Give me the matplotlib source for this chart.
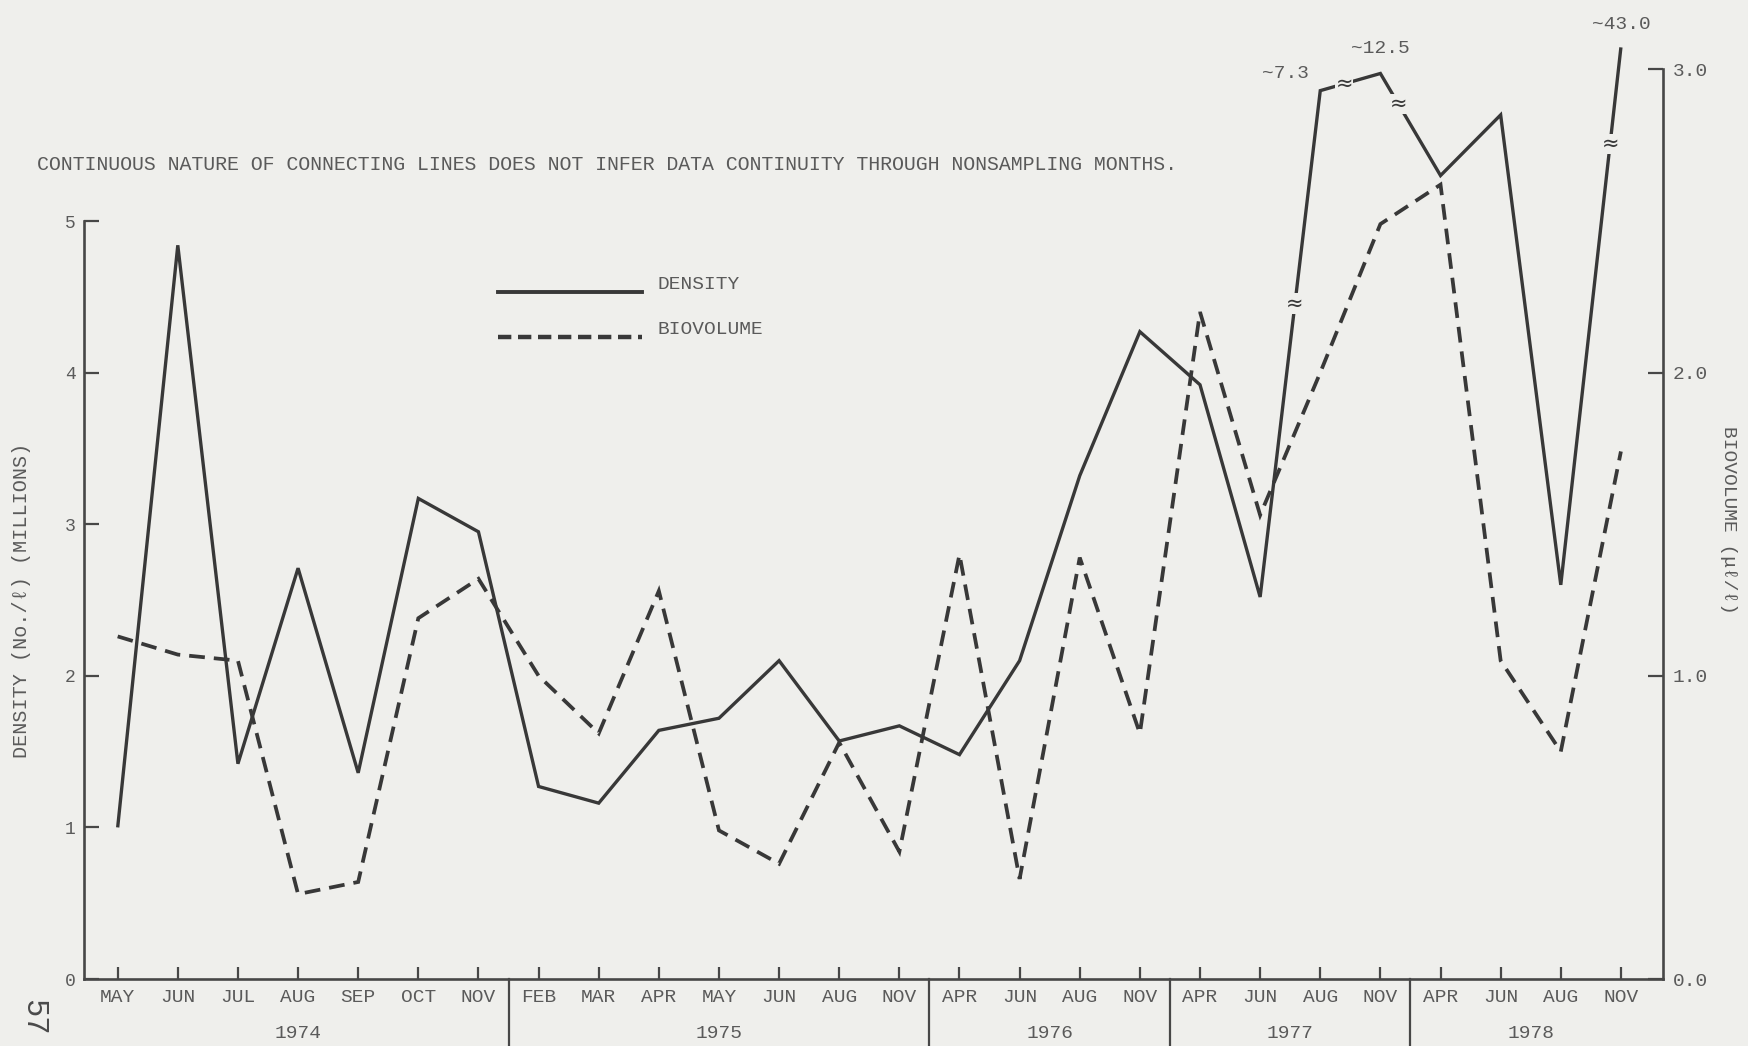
import numpy as np
import matplotlib
matplotlib.use("Agg")
import matplotlib.pyplot as plt
from matplotlib.lines import Line2D
import matplotlib.transforms as mtransforms

# ---- data -------------------------------------------------------------
months = ["MAY", "JUN", "JUL", "AUG", "SEP", "OCT", "NOV",
          "FEB", "MAR", "APR", "MAY", "JUN", "AUG", "NOV",
          "APR", "JUN", "AUG", "NOV",
          "APR", "JUN", "AUG", "NOV",
          "APR", "JUN", "AUG", "NOV"]
years = ["1974", "1975", "1976", "1977", "1978"]
months_per_year = [7, 7, 4, 4, 4]

# density, millions of organisms per litre
density = [1.00, 4.84, 1.42, 2.71, 1.36, 3.17, 2.95,
           1.27, 1.16, 1.64, 1.72, 2.10, 1.57, 1.67,
           1.48, 2.10, 3.32, 4.27,
           3.92, 2.52, 7.3, 12.5,
           5.3, 5.7, 2.6, 43.0]

# biovolume, microlitres per litre
biovolume = [1.13, 1.07, 1.05, 0.28, 0.32, 1.19, 1.32,
             1.00, 0.81, 1.28, 0.49, 0.38, 0.78, 0.42,
             1.40, 0.33, 1.39, 0.81,
             2.20, 1.53, 2.00, 2.49,
             2.62, 1.05, 0.75, 1.74]

note = ("CONTINUOUS NATURE OF CONNECTING LINES DOES NOT INFER "
        "DATA CONTINUITY THROUGH NONSAMPLING MONTHS.")

# ---- style ------------------------------------------------------------
BG = "#efefec"
INK = "#383838"
TXT = "#5a5a5a"
FONT = ["Liberation Mono", "DejaVu Sans Mono", "DejaVu Sans"]
FS = 14
plt.rcParams["font.family"] = FONT
plt.rcParams["font.size"] = FS

W, H = 1749, 1046
fig = plt.figure(figsize=(W / 100, H / 100), dpi=100, facecolor=BG)

# axis frame in pixel terms
x_left, x_right, y_base = 84, 1663, 979
ax = fig.add_axes([x_left / W, (H - y_base) / H, (x_right - x_left) / W, y_base / H])
ax.set_facecolor("none")

# The density axis is linear up to T and strongly compressed above it, so
# off-scale peaks stay inside the frame (shown with break marks).
T, A, Q = 5.75, 0.26, 0.6
TOP = 6.458  # linear-equivalent height of the frame


def fwd(y):
    y = np.asarray(y, dtype=float)
    over = np.log(np.maximum(y, T) / T)
    return np.where(y > T, T + A * over ** Q, y)


def inv(v):
    v = np.asarray(v, dtype=float)
    ex = np.maximum(v - T, 0.0) / A
    return np.where(v > T, T * np.exp(ex ** (1.0 / Q)), v)


x = np.arange(len(months))
ax.set_yscale("function", functions=(fwd, inv))
ax.set_xlim(-0.56, 25.70)
ax.set_ylim(0, float(inv(TOP)))
ax.yaxis.set_minor_locator(matplotlib.ticker.NullLocator())

ax2 = ax.twinx()
ax2.set_ylim(0, TOP / 2)

# ---- series -----------------------------------------------------------
ax.plot(x, density, color=INK, lw=2.4, solid_joinstyle="miter",
        solid_capstyle="butt", zorder=3)
ax2.plot(x, biovolume, color=INK, lw=2.7, dashes=(4.2, 2.4),
         dash_joinstyle="miter", zorder=3)

# ---- axes styling -----------------------------------------------------
for s in ("top", "right"):
    ax.spines[s].set_visible(False)
for s in ("top", "left", "bottom"):
    ax2.spines[s].set_visible(False)
ax.spines["left"].set_bounds(0, 5)
ax2.spines["right"].set_bounds(0, 3)
for sp in (ax.spines["left"], ax.spines["bottom"], ax2.spines["right"]):
    sp.set_color("#474747")
    sp.set_linewidth(1.9)

ax.set_yticks(range(6), [str(v) for v in range(6)])
ax.set_xticks(x, months)
ax.tick_params(axis="x", direction="in", length=9, width=1.6, pad=7,
               colors="#474747", labelcolor=TXT, labelsize=FS)
ax.tick_params(axis="y", direction="in", length=11, width=1.6, pad=6,
               colors="#474747", labelcolor=TXT, labelsize=FS - 1)
ax2.set_yticks(range(4), [f"{v:.1f}" for v in range(4)])
ax2.tick_params(axis="y", direction="in", length=11, width=1.6, pad=7,
                colors="#474747", labelcolor=TXT, labelsize=FS)

# year separators and year labels under the month row
xt = mtransforms.blended_transform_factory(ax.transData, ax.transAxes)
start = 0
for k, (yr, n) in enumerate(zip(years, months_per_year)):
    centre = start + (n - 1) / 2
    ax.text(centre, -0.0552, yr, transform=xt, ha="center", va="center",
            color=TXT, fontsize=FS)
    if k < len(years) - 1:
        sep = start + n - 0.5
        ax.plot([sep, sep], [0, -0.075], transform=xt, color="#474747",
                lw=1.6, clip_on=False)
    start += n

# ---- break marks and off-scale values ----------------------------------
def break_mark(i, frac):
    p0 = ax.transData.transform((x[i], density[i]))
    p1 = ax.transData.transform((x[i + 1], density[i + 1]))
    pm = p0 + frac * (p1 - p0)
    xm, ym = ax.transData.inverted().transform(pm)
    ax.text(xm, ym, "\u2248", ha="center", va="center", fontsize=15,
            family="DejaVu Sans", color=INK, zorder=5,
            bbox=dict(facecolor=BG, edgecolor="none", pad=0.2))


break_mark(19, 0.58)
break_mark(20, 0.40)
break_mark(21, 0.30)
break_mark(24, 0.82)

label_offsets = {20: (-8, 6, "right"), 21: (0, 12, "center"), 25: (0, 10, "center")}
for i, v in enumerate(density):
    if v > T:
        dx, dy, ha = label_offsets.get(i, (0, 10, "center"))
        ax.annotate(f"~{v:.1f}", xy=(x[i], v), xytext=(dx, dy),
                    textcoords="offset points", ha=ha, va="bottom",
                    color=TXT, fontsize=FS, annotation_clip=False)

# ---- legend -----------------------------------------------------------
ly1, ly2 = 1 - 292 / H, 1 - 337 / H
fig.add_artist(Line2D([498 / W, 642 / W], [ly1, ly1], color=INK, lw=2.8))
fig.add_artist(Line2D([498 / W, 642 / W], [ly2, ly2], color=INK, lw=3.2,
                      dashes=(3.0, 1.5)))
fig.text(658 / W, ly1 + 0.007, "DENSITY", ha="left", va="center",
         color=TXT, fontsize=FS)
fig.text(658 / W, ly2 + 0.007, "BIOVOLUME", ha="left", va="center",
         color=TXT, fontsize=FS)

# ---- text ---------------------------------------------------------------
fig.text(37 / W, 1 - 165 / H, note, ha="left", va="center", color=TXT,
         fontsize=14.35)
fig.text(22 / W, 1 - 600 / H, "DENSITY (No./\u2113) (MILLIONS)", rotation=90,
         ha="center", va="center", color=TXT, fontsize=FS + 0.5)
fig.text(1729 / W, 1 - 520 / H, "BIOVOLUME (\u03bc\u2113/\u2113)", rotation=-90,
         ha="center", va="center", color=TXT, fontsize=FS)
fig.text(33 / W, 1 - 1017 / H, "57", rotation=-90, ha="center", va="center",
         color="#4a4a4a", fontsize=22)

fig.savefig("out.png", dpi=100, facecolor=BG)
